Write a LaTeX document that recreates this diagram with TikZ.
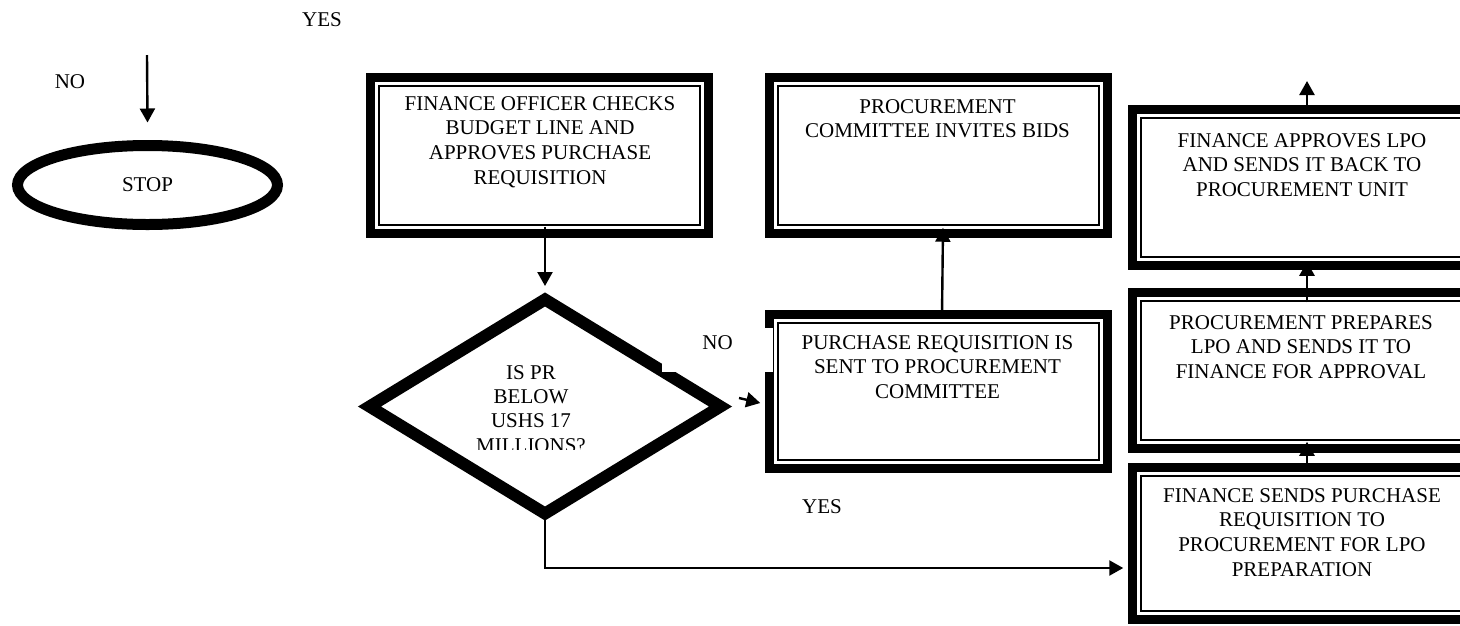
\documentclass[tikz,border=0pt]{standalone}
\usepackage{fontspec}
\setmainfont{Liberation Serif}
\usetikzlibrary{shapes.geometric,arrows.meta,calc}
\begin{document}
\begin{tikzpicture}[x=1pt,y=1pt, font=\fontsize{21}{24.8}\selectfont,
 box/.style={draw, line width=9.5pt, fill=white, rectangle, inner sep=0pt,
   path picture={\draw[line width=1.5pt] ($(path picture bounding box.north west)+(8.5,-8.5)$) rectangle ($(path picture bounding box.south east)+(-8.5,8.5)$);}},
 txt/.style={align=center, inner sep=0pt, anchor=north},
 arr/.style={line width=2.4pt, -{Triangle[length=14pt,width=15pt]}},
 lbl/.style={inner sep=0pt}]
\useasboundingbox (0,0) rectangle (1460,-625);
\clip (0,0) rectangle (1460,-625);

% stop terminal
\node[ellipse, draw, line width=11pt, minimum width=260pt, minimum height=79pt, inner sep=0pt] (stop) at (147.5,-185) {STOP};

% process boxes
\node[box, minimum width=338pt, minimum height=156pt] (b1) at (539.5,-155.5) {};
\node[box, minimum width=338pt, minimum height=156pt] (b2) at (938.5,-155.5) {};
\node[box, minimum width=338pt, minimum height=154pt] (b3) at (938.5,-391.5) {};
\node[box, minimum width=400pt, minimum height=156pt] (ba) at (1332.5,-187.5) {};
\node[box, minimum width=400pt, minimum height=156pt] (bb) at (1332.5,-370.5) {};
\node[box, minimum width=400pt, minimum height=152pt] (bc) at (1332.5,-543.5) {};

% decision
\node[diamond, draw, line width=12pt, minimum width=356pt, minimum height=219pt, inner sep=0pt] (dia) at (545,-406.5) {};
\begin{scope}
\clip (380,-300) rectangle (710,-449);
\node[txt, font=\fontsize{21}{24.4}\selectfont] (tq) at (531,-365) {IS PR\\BELOW\\USHS 17\\MILLIONS?};
\end{scope}

% NO label box (white)
\node[fill=white, minimum width=111pt, minimum height=44pt, inner sep=0pt, text depth=14pt] (no2) at (717.5,-350) {NO};

% labels
\node[lbl] (yes1) at (322,-20) {YES};
\node[lbl] (no1) at (70,-82) {NO};
\node[lbl] (yes2) at (822,-507) {YES};

% box texts
\node[txt] (t1) at (540,-96) {FINANCE OFFICER CHECKS\\BUDGET LINE AND\\APPROVES PURCHASE\\REQUISITION};
\node[txt] (t2) at (937.5,-99) {PROCUREMENT\\COMMITTEE INVITES BIDS};
\node[txt] (t3) at (937.5,-335) {PURCHASE REQUISITION IS\\SENT TO PROCUREMENT\\COMMITTEE};
\node[txt] (ta) at (1302,-133) {FINANCE APPROVES LPO\\AND SENDS IT BACK TO\\PROCUREMENT UNIT};
\node[txt] (tb) at (1301,-315) {PROCUREMENT PREPARES\\LPO AND SENDS IT TO\\FINANCE FOR APPROVAL};
\node[txt] (tc) at (1302,-488) {FINANCE SENDS PURCHASE\\REQUISITION TO\\PROCUREMENT FOR LPO\\PREPARATION};

% connectors
\coordinate (nostart) at (147,-55);
\draw[arr] (nostart) -- ($(stop.north)+(0,17.5)$);
\draw[arr] ($(b1.south -| dia.north)+(0,11.5)$) -- ($(dia.north)+(0,5)$);
\draw[arr] ($(dia.east)+(10,8.5)$) -- ($(b3.west)+(-4.5,-11.5)$);
\draw[arr] ($(b3.north)+(3.5,-5.5)$) -- ($(b2.south)+(4.5,10.5)$);
\coordinate (xr) at (1307,0);
\draw[arr] ($(xr |- bc.north)+(0,-4.5)$) -- ($(xr |- bb.south)+(0,11.5)$);
\draw[arr] ($(xr |- bb.north)+(0,-14.5)$) -- ($(xr |- ba.south)+(0,8.5)$);
\coordinate (topend) at (1307,-81);
\draw[arr] ($(xr |- ba.north)+(0,-5.5)$) -- (topend);
\coordinate (yy) at (0,-568);
\draw[arr] ($(dia.south)+(0,14)$) |- ($(bc.west |- yy)+(-4.5,0)$);
\end{tikzpicture}
\end{document}
